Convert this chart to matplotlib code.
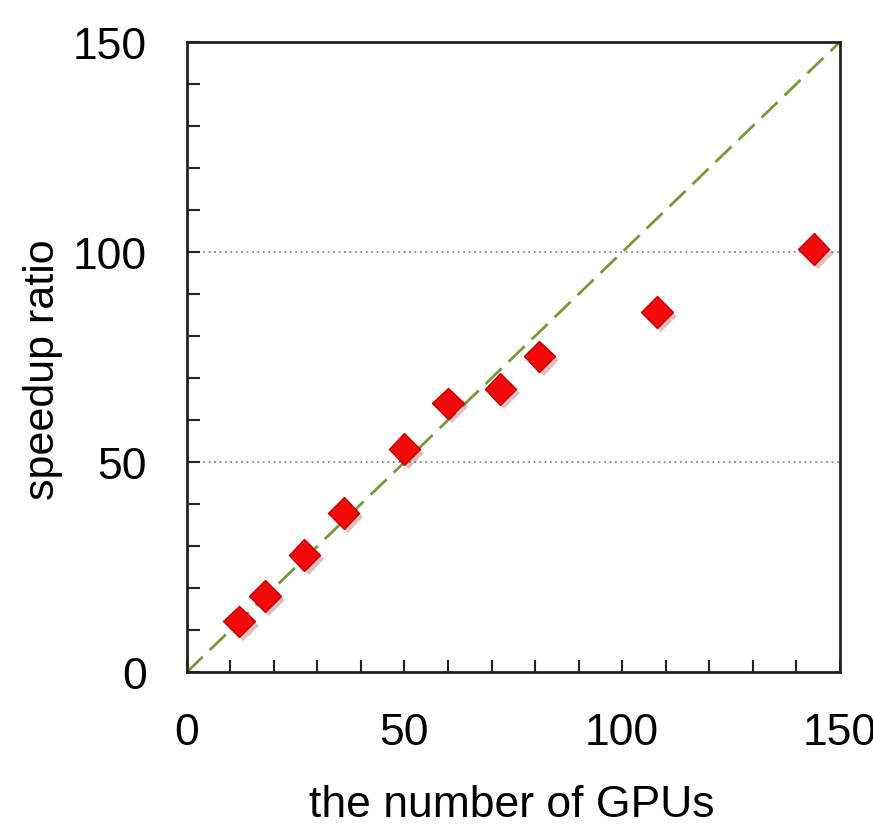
import matplotlib
matplotlib.use("Agg")
import matplotlib.pyplot as plt
import matplotlib.patheffects as pe
from matplotlib.ticker import MultipleLocator

# GPU数と速度向上率
gpus = [12, 18, 27, 36, 50, 60, 72, 81, 108, 144]
speedup = [12.1, 18.1, 27.9, 37.9, 53.1, 64.0, 67.4, 75.2, 85.7, 100.7]
ideal = [0, 150]

plt.rcParams['font.family'] = ['Liberation Sans', 'DejaVu Sans']

fig = plt.figure(figsize=(8.73, 8.28), dpi=100)
ax = fig.add_axes([0.214, 0.187, 0.748, 0.761])

ax.plot(ideal, ideal, ls=(0, (8, 3.5)), color='#76993b', lw=2, zorder=2)
ax.plot(gpus, speedup, ls='none', marker='D', markersize=16,
        markerfacecolor='#f20a0a', markeredgecolor='#c00000', markeredgewidth=1,
        zorder=3,
        path_effects=[pe.SimplePatchShadow(offset=(3, -3), alpha=0.25, rho=0.5),
                      pe.Normal()])

for yv in (50, 100):
    ax.axhline(yv, color='#888888', ls=(0, (1, 2)), lw=1.3, zorder=1)

ax.set_xlim(0, 150)
ax.set_ylim(0, 150)
ax.xaxis.set_major_locator(MultipleLocator(50))
ax.xaxis.set_minor_locator(MultipleLocator(10))
ax.yaxis.set_major_locator(MultipleLocator(50))
ax.yaxis.set_minor_locator(MultipleLocator(10))
ax.tick_params(which='both', direction='in', width=1.5, length=9,
               labelsize=32, color='#222222')
ax.tick_params(axis='x', which='both', pad=29)
ax.tick_params(axis='y', which='both', pad=29)

for s in ax.spines.values():
    s.set_linewidth(2)
    s.set_color('#222222')

ax.set_xlabel('the number of GPUs', fontsize=32)
ax.set_ylabel('speedup ratio', fontsize=31)
ax.xaxis.set_label_coords(0.498, -0.177)
ax.yaxis.set_label_coords(-0.19, 0.481)

fig.savefig('out.png', dpi=100)
